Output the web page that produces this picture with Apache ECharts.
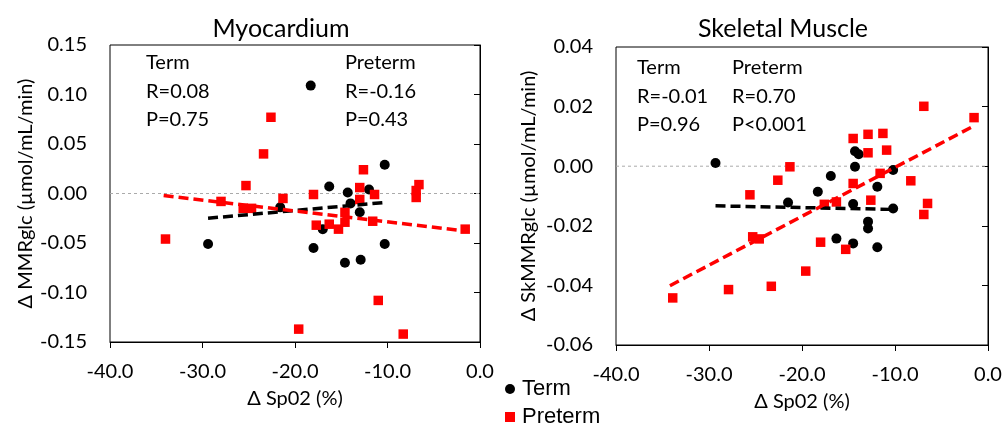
<!DOCTYPE html>
<html><head><meta charset="utf-8">
<script src="https://cdn.jsdelivr.net/npm/echarts@6/dist/echarts.min.js"></script>
<style>html,body{margin:0;padding:0;background:#fff}#c{width:1005px;height:429px}</style>
</head><body><div id="c"></div>
<script>
// Myocardium
const termMyoX = [-18.3,-10.3,-16.3,-14.3,-12.0,-14.0,-21.6,-13.0,-17.0,-29.4,-18.0,-10.3,-14.6,-12.9];
const termMyoY = [0.109,0.029,0.007,0.001,0.004,-0.010,-0.014,-0.019,-0.036,-0.051,-0.055,-0.051,-0.070,-0.067];
const pretermMyoX = [-22.6,-23.4,-12.6,-25.3,-6.6,-6.9,-6.9,-13.0,-13.0,-18.0,-11.4,-21.3,-28.0,-25.6,-24.7,-14.6,-14.6,-17.7,-16.3,-15.3,-11.6,-1.6,-34.0,-11.0,-19.6,-8.3];
const pretermMyoY = [0.077,0.040,0.024,0.008,0.009,0.003,-0.004,0.006,-0.006,-0.001,-0.001,-0.005,-0.008,-0.015,-0.015,-0.019,-0.029,-0.032,-0.031,-0.036,-0.028,-0.036,-0.046,-0.108,-0.137,-0.142];
const termMyoFitX = [-29.4,-10.2];
const termMyoFitY = [-0.025,-0.009];
const pretermMyoFitX = [-34.2,-1.4];
const pretermMyoFitY = [-0.002,-0.038];
// Skeletal muscle
const termSkX = [-29.3,-14.3,-13.9,-14.3,-10.2,-16.9,-11.9,-18.3,-21.5,-14.5,-10.2,-12.9,-12.9,-16.3,-14.5,-11.9];
const termSkY = [0.0011,0.0050,0.0040,-0.0002,-0.0013,-0.0033,-0.0069,-0.0086,-0.0122,-0.0127,-0.0142,-0.0186,-0.0209,-0.0243,-0.0259,-0.0272];
const pretermSkX = [-6.9,-1.5,-12.9,-11.3,-14.5,-12.9,-10.9,-21.3,-22.6,-8.3,-14.5,-11.6,-25.6,-12.6,-17.6,-16.3,-6.5,-6.9,-25.3,-24.6,-18.0,-15.3,-19.6,-23.3,-27.9,-33.9];
const pretermSkY = [0.0201,0.0163,0.0107,0.0110,0.0093,0.0045,0.0054,-0.0002,-0.0047,-0.0049,-0.0058,-0.0024,-0.0096,-0.0114,-0.0128,-0.0120,-0.0125,-0.0162,-0.0237,-0.0244,-0.0255,-0.0279,-0.0352,-0.0403,-0.0414,-0.0442];
const termSkFitX = [-29.3,-10.3];
const termSkFitY = [-0.0133,-0.0145];
const pretermSkFitX = [-34.2,-1.4];
const pretermSkFitY = [-0.0401,0.0137];
const xTicks = {min:-40, max:0, interval:10};
const titles = ['Myocardium','Skeletal Muscle'];
const yNames = ['Δ MMRglc (µmol/mL/min)','Δ SkMMRglc (µmol/mL/min)'];
const xName = 'Δ Sp02 (%)';
const statsMyo = [['Term','R=0.08','P=0.75'],['Preterm','R=-0.16','P=0.43']];
const statsSk = [['Term','R=-0.01','P=0.96'],['Preterm','R=0.70','P<0.001']];

const F = 'Lato, "Open Sans", sans-serif';
const LF = '"Liberation Sans", Arial, sans-serif';
const zip = (a,b)=>a.map((v,i)=>[v,b[i]]);
const chart = echarts.init(document.getElementById('c'));
const grids = [{left:110,top:45,width:370,height:297},{left:616,top:47,width:372,height:298}];
function xAxis(i){return {gridIndex:i,type:'value',min:xTicks.min,max:xTicks.max,interval:xTicks.interval,
  name:xName,nameLocation:'middle',nameGap:47,nameTextStyle:{color:'#000',fontSize:20,fontFamily:F},
  axisLine:{onZero:false,lineStyle:{color:'#000',width:1}},axisTick:{show:true,length:6,lineStyle:{color:'#000'}},
  axisLabel:{color:'#000',fontSize:20,fontFamily:F,margin:20,formatter:v=>v.toFixed(1)},splitLine:{show:false}};}
function yAxis(i,min,max,interval,gap){return {gridIndex:i,type:'value',min,max,interval,
  name:yNames[i],nameLocation:'middle',nameGap:gap,nameTextStyle:{color:'#000',fontSize:20,fontFamily:F},
  axisLine:{show:true,lineStyle:{color:'#000',width:1}},axisTick:{show:true,length:6,lineStyle:{color:'#000'}},
  axisLabel:{color:'#000',fontSize:20,fontFamily:F,margin:23,formatter:v=>v.toFixed(2)},splitLine:{show:false}};}
function zeroLine(i){return {type:'line',name:'zero',xAxisIndex:i,yAxisIndex:i,data:[[-40,0],[0,0]],symbol:'none',silent:true,
  lineStyle:{color:'#aaa',width:1,type:[3,3]},z:1};}
function fit(i,xs,ys,color){return {type:'line',name:'fit',xAxisIndex:i,yAxisIndex:i,data:zip(xs,ys),symbol:'none',
  lineStyle:{color,width:3.5,type:[10,5]},z:3};}
function sc(i,name,xs,ys,symbol,size,color){return {type:'scatter',name,xAxisIndex:i,yAxisIndex:i,data:zip(xs,ys),symbol,
  symbolSize:size,itemStyle:{color,opacity:1},z:2};}
function statText(x,y0,lines){return lines.map((t,k)=>({type:'text',left:x,top:y0+k*28.5,style:{text:t,font:'20px '+F,fill:'#000'}}));}
chart.setOption({
  animation:false,
  title:[{text:titles[0],left:276,top:11,textAlign:'center',textStyle:{fontSize:25,fontWeight:'normal',color:'#000',fontFamily:F}},
         {text:titles[1],left:778,top:11,textAlign:'center',textStyle:{fontSize:25,fontWeight:'normal',color:'#000',fontFamily:F}}],
  legend:{data:[{name:'Term',icon:'circle'},{name:'Preterm',icon:'rect'}],orient:'vertical',left:505,top:378,padding:0,
    itemWidth:10,itemHeight:10,itemGap:6,textStyle:{color:'#000',fontSize:22,lineHeight:22,fontFamily:LF,padding:[0,0,0,2]}},
  grid:grids.map(g=>Object.assign({show:true,borderColor:'#000',borderWidth:1,backgroundColor:'transparent'},g)),
  xAxis:[xAxis(0),xAxis(1)],
  yAxis:[yAxis(0,-0.15,0.15,0.05,74),yAxis(1,-0.06,0.04,0.02,77)],
  graphic:[].concat(statText(146,53,statsMyo[0]),statText(345,53,statsMyo[1]),statText(637,58,statsSk[0]),statText(732,58,statsSk[1])),
  series:[zeroLine(0),zeroLine(1),
    sc(0,'Term',termMyoX,termMyoY,'circle',10,'#000'),sc(0,'Preterm',pretermMyoX,pretermMyoY,'rect',9.5,'#ff0000'),
    fit(0,termMyoFitX,termMyoFitY,'#000'),fit(0,pretermMyoFitX,pretermMyoFitY,'#ff0000'),
    sc(1,'Term',termSkX,termSkY,'circle',10,'#000'),sc(1,'Preterm',pretermSkX,pretermSkY,'rect',9.5,'#ff0000'),
    fit(1,termSkFitX,termSkFitY,'#000'),fit(1,pretermSkFitX,pretermSkFitY,'#ff0000')]
});
</script></body></html>
